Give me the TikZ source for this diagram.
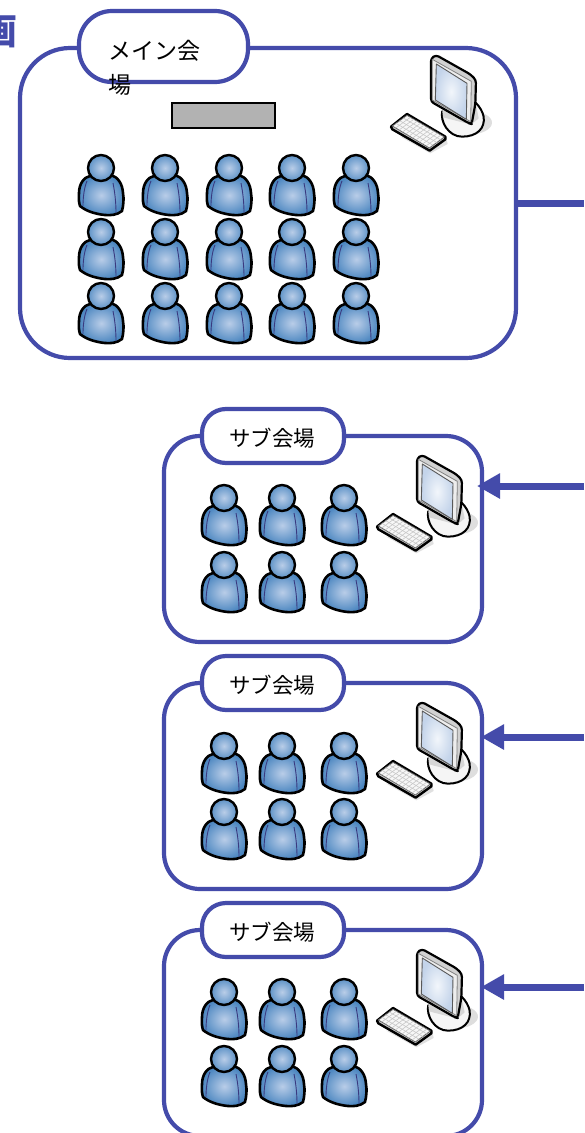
\documentclass[tikz,border=0pt]{standalone}
\usepackage{fontspec}
\setmainfont{Noto Sans CJK JP}
\usetikzlibrary{arrows.meta,calc}
\definecolor{framec}{HTML}{444BAA}
\definecolor{pin}{HTML}{B9CDE8}
\definecolor{pout}{HTML}{4B86C0}
\definecolor{foldc}{HTML}{3A3A80}
\definecolor{scrin}{HTML}{F2F6FB}
\definecolor{scrout}{HTML}{C4D4EA}
\tikzset{
  panelbox/.style={draw=framec,line width=4.2pt,fill=white,rounded corners=#1,inner sep=0pt},
  pillbox/.style={draw=framec,line width=4.2pt,fill=white,rounded corners=24pt,inner sep=0pt},
  link/.style={draw=framec,line width=7pt},
  arrowlink/.style={draw=framec,line width=7pt,-{Triangle[length=23pt,width=24pt]}},
  lecturn/.style={draw=black,line width=2.4pt,fill=black!30,inner sep=0pt},
  sublabel/.style={font=\fontsize{21.5}{24}\selectfont,inner sep=0pt,text=black},
  person/.pic={
    \path[draw=black,line width=2.6pt,line join=round,inner color=pin,outer color=pout]
      (-11,8) .. controls (-17,9) and (-22,16) .. (-22,25)
      .. controls (-22.5,31) and (-22,35) .. (-21,38)
      .. controls (-15,43) and (-6,46) .. (4,47)
      .. controls (10,47.5) and (16,47) .. (21,43)
      .. controls (22.5,37) and (23,31) .. (22,25)
      .. controls (21.5,16) and (17,9) .. (10,7) -- cycle;
    \draw[foldc,line width=.9pt] (-14,13) .. controls (-17,20) and (-18,30) .. (-18,38);
    \draw[foldc,line width=.9pt] (12,15) .. controls (14,25) and (15,35) .. (15,45);
    \path[draw=black,line width=2.4pt,inner color=pin,outer color=pout!90!white] (0,0) circle (13);
  },
  computer/.pic={
    \begin{scope}[x=0.3333pt,y=-0.3333pt,shift={(-182,-45)}]
      % keyboard
      \fill[black!12] (90,290) -- (180,340) -- (232,312) -- (228,295) -- cycle;
      \draw[line width=2.4pt,line join=round,fill=black!22]
        (62,260) -- (110,222) -- (225,290) -- (225,298) -- (178,332) -- (66,268) -- cycle;
      \draw[line width=.8pt,black!60,line join=round,fill=black!3] (66,258) -- (110,226) -- (222,291) -- (177,324) -- cycle;
      \foreach \i in {1,...,3}
        \draw[black!22,line width=.6pt] ($(66,258)!\i/4!(110,226)$) -- ($(177,324)!\i/4!(222,291)$);
      \foreach \i in {1,...,10}
        \draw[black!22,line width=.6pt] ($(66,258)!\i/11!(177,324)$) -- ($(110,226)!\i/11!(222,291)$);
      % stand
      \fill[black!13] (295,248) ellipse [x radius=70,y radius=36];
      \draw[line width=2pt,fill=black!4]
        (216,212) .. controls (208,245) and (235,290) .. (275,290)
        .. controls (320,290) and (345,265) .. (340,230)
        .. controls (337,215) and (328,200) .. (316,188);
      \fill[black!16] (216,214) -- (218,232) -- (303,254) -- (325,235) -- (316,190) -- cycle;
      % monitor
      \draw[line width=2.2pt,line join=round,rounded corners=3pt,fill=black!18]
        (182,55) -- (197,45) -- (300,103) -- (317,120) -- (315,192) -- (304,252) -- (296,250) -- (182,185) -- cycle;
      \draw[line width=.8pt,black!50,line join=round,fill=black!7]
        (186,58) -- (303,124) -- (301,245) -- (186,180) -- cycle;
      \path[draw=black!65,line width=.9pt,line join=round,inner color=scrin,outer color=scrout]
        (198,72) -- (290,130) -- (288,238) -- (195,180) -- cycle;
    \end{scope}
  }
}
\begin{document}
\begin{tikzpicture}[x=1pt,y=-1pt]
  \useasboundingbox (0,0) rectangle (584,1133);
  \fill[white] (0,0) rectangle (584,1133);
  \node[text=framec,font=\fontsize{36}{36}\selectfont\bfseries,inner sep=0pt] (head) at (-1,32) {画};

  % main hall
  \node[panelbox=50pt,minimum width=496pt,minimum height=310pt] (mainhall) at (268,203) {};
  \node[pillbox,rounded corners=33pt,minimum width=169pt,minimum height=71pt] (mainpill) at (163.5,46.5) {};
  \node[align=left,anchor=north west,inner sep=0pt,font=\fontsize{23}{33.5}\selectfont] (mainlabel) at (108,40) {メイン会\\場};
  \node[lecturn,minimum width=103pt,minimum height=25pt] (desk) at (223.5,115.5) {};
  \foreach \cx in {101,165,229,292,356} \foreach \cy in {168,232,296}
    \pic at (\cx,\cy) {person};
  \pic at (431,55) {computer};
  \coordinate (mainend) at (584,203);
  \draw[link] (mainhall.east) -- (mainend);

  % sub hall 1
  \node[panelbox=36pt,minimum width=318pt,minimum height=206pt] (subA) at (323,539) {};
  \node[pillbox,minimum width=142pt,minimum height=54pt] (pillA) at (273,436) {};
  \node[sublabel] (labA) at (272,438) {サブ会場};
  \foreach \cx in {224,282,344} \foreach \cy in {498,565}
    \pic at (\cx,\cy) {person};
  \pic at (417,455) {computer};
  \coordinate (srcA) at (584,486);
  \coordinate (tipA) at (477,486);
  \draw[arrowlink] (srcA) -- (tipA);

  % sub hall 2
  \node[panelbox=36pt,minimum width=318pt,minimum height=206pt] (subB) at (323,786) {};
  \node[pillbox,minimum width=142pt,minimum height=54pt] (pillB) at (273,683) {};
  \node[sublabel] (labB) at (272,685) {サブ会場};
  \foreach \cx in {224,282,344} \foreach \cy in {746,812}
    \pic at (\cx,\cy) {person};
  \pic at (417,702) {computer};
  \coordinate (srcB) at (584,737);
  \coordinate (tipB) at (481,737);
  \draw[arrowlink] (srcB) -- (tipB);

  % sub hall 3
  \node[panelbox=36pt,minimum width=318pt,minimum height=206pt] (subC) at (323,1033) {};
  \node[pillbox,minimum width=142pt,minimum height=54pt] (pillC) at (273,930) {};
  \node[sublabel] (labC) at (272,932) {サブ会場};
  \foreach \cx in {224,282,344} \foreach \cy in {992,1059}
    \pic at (\cx,\cy) {person};
  \pic at (417,949) {computer};
  \coordinate (srcC) at (584,987);
  \coordinate (tipC) at (481,987);
  \draw[arrowlink] (srcC) -- (tipC);
\end{tikzpicture}
\end{document}
